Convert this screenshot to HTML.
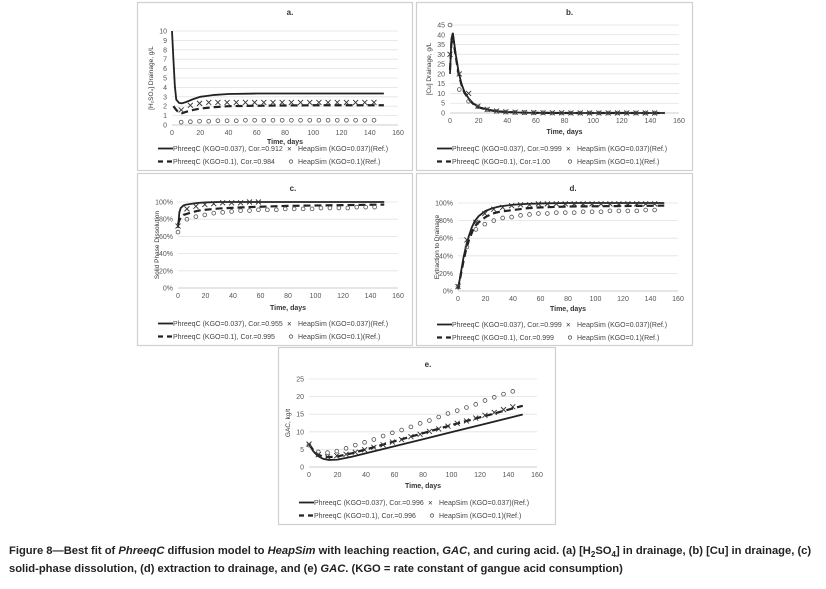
<!DOCTYPE html>
<html><head><meta charset="utf-8">
<style>
body{margin:0;background:#fff;width:826px;height:589px;overflow:hidden;font-family:"Liberation Sans",sans-serif}
#cap{position:absolute;left:9px;top:544px;font-size:11.2px;font-weight:bold;line-height:15px;color:#222;width:810px}
</style></head><body>
<svg id="fig" width="826" height="540" style="position:absolute;left:0;top:0" xmlns="http://www.w3.org/2000/svg"></svg>
<div id="cap">Figure 8—Best fit of <i>PhreeqC</i> diffusion model to <i>HeapSim</i> with leaching reaction, <i>GAC</i>, and curing acid. (a) [H<sub style="font-size:8px">2</sub>SO<sub style="font-size:8px">4</sub>] in drainage, (b) [Cu] in drainage, (c)<br>solid-phase dissolution, (d) extraction to drainage, and (e) <i>GAC</i>. (KGO = rate constant of gangue acid consumption)</div>
<script>
// ---- data ----
const xTicks=[0,20,40,60,80,100,120,140,160];
const markT=[0,6.5,13,19.5,26,32.5,39,45.5,52,58.5,65,71.5,78,84.5,91,97.5,104,110.5,117,123.5,130,136.5,143];
// panel a
const aLineT=[0,1,2,3,5,7,10,15,20,25,30,40,60,100,150];
const aSolid=[10,7,4.2,2.7,2.35,2.3,2.45,2.75,3.0,3.1,3.2,3.3,3.35,3.35,3.35];
const aDashT=[1,2,3,5,7,10,15,20,30,40,60,100,150];
const aDash=[2.0,1.8,1.6,1.3,1.25,1.4,1.6,1.75,1.9,2.0,2.05,2.1,2.1];
const aX=[null,1.6,2.1,2.3,2.4,2.4,2.4,2.4,2.4,2.4,2.4,2.4,2.4,2.4,2.4,2.4,2.4,2.4,2.4,2.4,2.4,2.4,2.4];
const aO=[null,0.3,0.35,0.4,0.4,0.45,0.45,0.45,0.5,0.5,0.5,0.5,0.5,0.5,0.5,0.5,0.5,0.5,0.5,0.5,0.5,0.5,0.5];
// panel b
const bLineT=[0,1,2,4,6,8,10,13,16,20,26,32,40,50,60,80,100,150];
const bSolid=[20,38,41,30,21,15,11,7.5,5,3,1.8,1,0.5,0.2,0.1,0,0,0];
const bDash=[22,36,39,29,20,14.5,10.5,7.2,4.8,2.9,1.7,0.9,0.45,0.2,0.1,0,0,0];
const bX=[30,20,10,3.5,1.8,1,0.6,0.4,0.3,0.2,0.1,0.1,0.1,0,0,0,0,0,0,0,0,0,0];
const bO=[45,12,6,3.2,1.6,0.9,0.5,0.3,0.2,0.1,0.1,0,0,0,0,0,0,0,0,0,0,0,0];
// panel c
const cLineT=[0,1,2,4,6,10,15,20,30,50,80,150];
const cSolid=[0.70,0.88,0.93,0.96,0.97,0.98,0.99,0.995,1.0,1.0,1.0,1.0];
const cDash=[0.74,0.79,0.82,0.85,0.86,0.88,0.9,0.91,0.925,0.94,0.955,0.97];
const cX=[0.72,0.92,0.95,0.97,0.98,0.99,0.99,0.99,1.0,1.0,null,null,null,null,null,null,null,null,null,null,null,null,null];
const cO=[0.65,0.8,0.83,0.85,0.87,0.88,0.89,0.9,0.9,0.91,0.91,0.91,0.92,0.92,0.92,0.92,0.93,0.93,0.93,0.93,0.94,0.94,0.94];
// panel d
const dLineT=[0,2,4,6,8,10,12,15,20,25,30,40,50,60,80,150];
const dSolid=[0.02,0.2,0.38,0.52,0.63,0.72,0.79,0.85,0.91,0.94,0.96,0.98,0.99,0.995,1.0,1.0];
const dDash=[0.02,0.18,0.34,0.48,0.58,0.66,0.73,0.78,0.84,0.88,0.9,0.92,0.94,0.95,0.96,0.97];
const dX=[0.05,0.58,0.78,0.88,0.93,0.95,0.97,0.98,0.98,0.99,0.99,0.99,0.99,0.99,0.99,0.99,0.99,0.99,0.99,0.99,0.99,0.99,0.99];
const dO=[0.05,0.5,0.7,0.76,0.8,0.83,0.84,0.86,0.87,0.88,0.88,0.89,0.89,0.89,0.9,0.9,0.9,0.91,0.91,0.91,0.91,0.92,0.92];
// panel e
const eLineT=[0,3,6,10,14,20,30,40,60,80,100,120,150];
const eSolid=[6.5,4.5,3.2,2.3,2.0,2.1,2.9,3.9,5.9,7.9,9.9,11.9,14.9];
const eDash=[6.5,4.8,3.6,2.9,2.8,3.0,3.9,5.0,7.3,9.6,11.9,14.1,17.4];
const eX=[6.5,3.5,2.9,3.2,3.6,4.2,4.9,5.6,6.3,7.1,7.8,8.6,9.3,10.1,10.8,11.6,12.4,13.1,13.9,14.7,15.5,16.3,17.1];
const eO=[6.2,4.3,4.1,4.5,5.3,6.2,7.0,7.8,8.8,9.7,10.5,11.4,12.4,13.2,14.2,15.2,16.0,16.9,17.8,18.9,19.8,20.7,21.5];

const NS='http://www.w3.org/2000/svg';
const svg=document.getElementById('fig');
function mk(tag,attrs,parent){const e=document.createElementNS(NS,tag);for(const k in attrs)e.setAttribute(k,attrs[k]);(parent||svg).appendChild(e);return e;}
function txt(s,attrs,parent){const e=mk('text',attrs,parent);e.textContent=s;return e;}

const panels=[
 {id:'a',box:[137,2,275,168],px:[172,398],py:[125,31],yMin:0,yMax:10,yt:[0,1,2,3,4,5,6,7,8,9,10],yfmt:v=>v,ylab:'[H\u2082SO\u2084] Drainage, g/L',title:'a.',titleY:15,xlabY:144,legY:[151,164],lt:aLineT,s:aSolid,dt:aDashT,d:aDash,mx:aX,mo:aO,c1:'0.912',c2:'0.984'},
 {id:'b',box:[416,2,276,168],px:[450,679],py:[113,25],yMin:0,yMax:45,yt:[0,5,10,15,20,25,30,35,40,45],yfmt:v=>v,ylab:'[Cu] Drainage, g/L',title:'b.',titleY:15,xlabY:134,legY:[151,164],lt:bLineT,s:bSolid,dt:bLineT,d:bDash,mx:bX,mo:bO,c1:'0.999',c2:'1.00'},
 {id:'c',box:[137,173,275,172],px:[178,398],py:[288,202],yMin:0,yMax:1,yt:[0,0.2,0.4,0.6,0.8,1],yfmt:v=>Math.round(v*100)+'%',ylab:'Solid Phase Dissolution',title:'c.',titleY:191,xlabY:310,legY:[326,339],lt:cLineT,s:cSolid,dt:cLineT,d:cDash,mx:cX,mo:cO,c1:'0.955',c2:'0.995'},
 {id:'d',box:[416,173,276,172],px:[458,678],py:[291,203],yMin:0,yMax:1,yt:[0,0.2,0.4,0.6,0.8,1],yfmt:v=>Math.round(v*100)+'%',ylab:'Extraction to Drainage',title:'d.',titleY:191,xlabY:311,legY:[327,340],lt:dLineT,s:dSolid,dt:dLineT,d:dDash,mx:dX,mo:dO,c1:'0.999',c2:'0.999'},
 {id:'e',box:[278,347,277,177],px:[309,537],py:[467,379],yMin:0,yMax:25,yt:[0,5,10,15,20,25],yfmt:v=>v,ylab:'GAC, kg/t',title:'e.',titleY:367,xlabY:488,legY:[505,518],lt:eLineT,s:eSolid,dt:eLineT,d:eDash,mx:eX,mo:eO,c1:'0.996',c2:'0.996'}
];

panels.forEach(p=>{
 const g=mk('g',{});
 
 
 const X=v=>p.px[0]+(v-0)/160*(p.px[1]-p.px[0]);
 const Y=v=>p.py[0]+(v-p.yMin)/(p.yMax-p.yMin)*(p.py[1]-p.py[0]);
 mk('rect',{x:p.box[0]+0.5,y:p.box[1]+0.5,width:p.box[2],height:p.box[3],fill:'#fff',stroke:'#d0d0d0','stroke-width':1.2},g);
 const t=txt(p.title,{x:(p.px[0]+p.px[1])/2+5,y:p.titleY,'font-size':8,'text-anchor':'middle',fill:'#333','font-weight':'bold'},g);
 
 
 p.yt.forEach(v=>{
  mk('line',{x1:p.px[0],x2:p.px[1],y1:Y(v),y2:Y(v),stroke:v===p.yMin?'#bbb':'#e2e2e2','stroke-width':0.8},g);
  txt(p.yfmt(v),{x:p.px[0]-5,y:Y(v)+2.5,'font-size':7,'text-anchor':'end',fill:'#555'},g);
 });
 xTicks.forEach(v=>txt(v,{x:X(v),y:p.py[0]+10,'font-size':7,'text-anchor':'middle',fill:'#555'},g));
 const xl=txt('Time, days',{x:(p.px[0]+p.px[1])/2,y:p.xlabY,'font-size':7,'text-anchor':'middle',fill:'#333','font-weight':'bold'},g);
 
 
 const cy=(p.py[0]+p.py[1])/2, cx=p.px[0]-19;
 const yl=txt(p.ylab,{x:cx,y:cy,'font-size':6.5,'text-anchor':'middle',fill:'#333',transform:`rotate(-90 ${cx} ${cy})`},g);
 
 
 const sp=mk('polyline',{points:p.lt.map((t,i)=>X(t)+','+Y(p.s[i])).join(' '),fill:'none',stroke:'#222','stroke-width':1.8},g);
 
 
 const dp=mk('polyline',{points:p.dt.map((t,i)=>X(t)+','+Y(p.d[i])).join(' '),fill:'none',stroke:'#222','stroke-width':2.2,'stroke-dasharray':'7,4'},g);
 
 
 markT.forEach((t,i)=>{
  if(p.mx[i]!=null){const mx=X(t),my=Y(p.mx[i]);
   const m=mk('path',{d:`M${mx-2.5},${my-2.5}L${mx+2.5},${my+2.5}M${mx-2.5},${my+2.5}L${mx+2.5},${my-2.5}`,stroke:'#333','stroke-width':0.9},g);
   
   }
  if(p.mo[i]!=null){
   const m=mk('circle',{cx:X(t),cy:Y(p.mo[i]),r:1.9,fill:'none',stroke:'#555','stroke-width':0.8},g);
   
   }
 });
 const lx=p.box[0]+21, l2=p.box[0]+161;
 const le1=mk('g',{},g);
 
 
 mk('line',{x1:lx,x2:lx+15,y1:p.legY[0]-2.5,y2:p.legY[0]-2.5,stroke:'#222','stroke-width':1.8},le1);
 txt('PhreeqC (KGO=0.037), Cor.='+p.c1,{x:lx+15,y:p.legY[0],'font-size':7,fill:'#444'},le1);
 const le2=mk('g',{},g);
 
 
 mk('line',{x1:lx,x2:lx+15,y1:p.legY[1]-2.5,y2:p.legY[1]-2.5,stroke:'#222','stroke-width':2.2,'stroke-dasharray':'5,4'},le2);
 txt('PhreeqC (KGO=0.1), Cor.='+p.c2,{x:lx+15,y:p.legY[1],'font-size':7,fill:'#444'},le2);
 const le3=mk('g',{},g);
 
 
 txt('\u00d7',{x:l2-11,y:p.legY[0]+0.5,'font-size':8,fill:'#333'},le3);
 txt('HeapSim (KGO=0.037)(Ref.)',{x:l2,y:p.legY[0],'font-size':7,fill:'#444'},le3);
 const le4=mk('g',{},g);
 
 
 mk('circle',{cx:l2-7,cy:p.legY[1]-2.5,r:1.7,fill:'none',stroke:'#555','stroke-width':0.8},le4);
 txt('HeapSim (KGO=0.1)(Ref.)',{x:l2,y:p.legY[1],'font-size':7,fill:'#444'},le4);
});
</script>
</body></html>
